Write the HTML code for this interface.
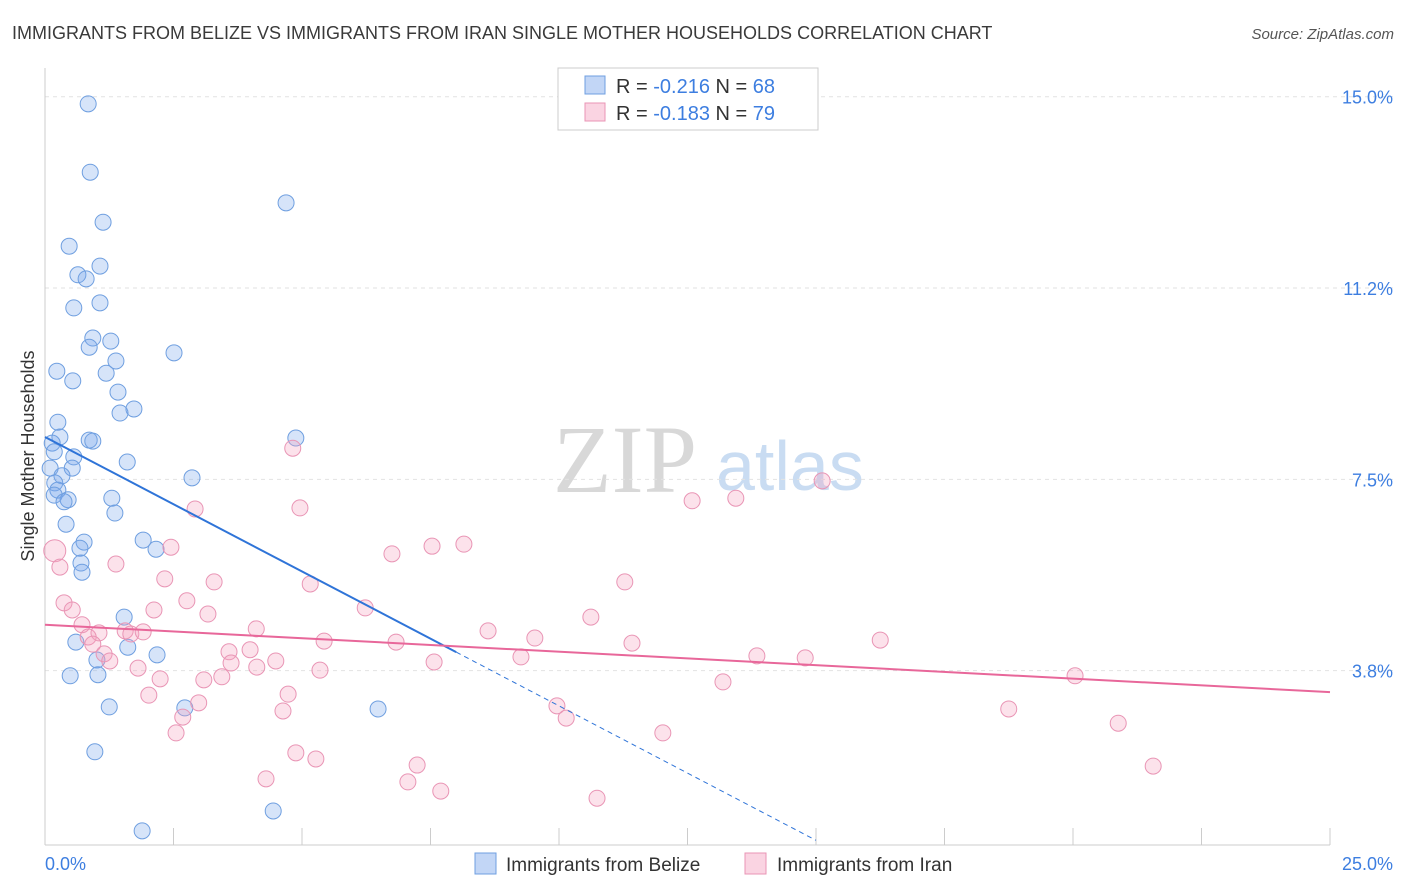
<!DOCTYPE html>
<html><head><meta charset="utf-8"><style>
body{margin:0;background:#fff;font-family:"Liberation Sans",sans-serif}
svg{display:block}
</style></head><body>
<svg id="chart" width="1406" height="892" xmlns="http://www.w3.org/2000/svg" font-family="Liberation Sans, sans-serif">
<text x="12" y="39" font-size="18" fill="#3a3a3a">IMMIGRANTS FROM BELIZE VS IMMIGRANTS FROM IRAN SINGLE MOTHER HOUSEHOLDS CORRELATION CHART</text>
<text x="1394" y="39" font-size="15" fill="#555" text-anchor="end" font-style="italic">Source: ZipAtlas.com</text>
<g>
<text x="553" y="492" font-family="Liberation Serif, serif" font-size="96" fill="#d8d8d8">ZIP</text>
<text x="716" y="490" font-size="70" fill="#c9dcf2">atlas</text>
</g>
<g id="grid"></g>
<g id="axes"></g>
<g id="pts"></g>
<g id="lines"></g>
<text transform="translate(34,456) rotate(-90)" font-size="18" fill="#333" text-anchor="middle">Single Mother Households</text>
<g>
<rect x="558" y="68" width="260" height="62" fill="#fff" stroke="#ccc"/>
<rect x="585" y="76" width="20" height="18" fill="rgba(120,165,235,0.45)" stroke="#6f9fe0"/>
<rect x="585" y="103" width="20" height="18" fill="rgba(245,160,190,0.45)" stroke="#e995b5"/>
<text x="616" y="93" font-size="20" fill="#333">R = <tspan fill="#3d7ee0">-0.216</tspan>   N = <tspan fill="#3d7ee0">68</tspan></text>
<text x="616" y="120" font-size="20" fill="#333">R = <tspan fill="#3d7ee0">-0.183</tspan>   N = <tspan fill="#3d7ee0">79</tspan></text>
</g>
<g>
<rect x="475" y="853" width="21" height="21" fill="rgba(120,165,235,0.45)" stroke="#6f9fe0"/>
<text x="506" y="871" font-size="19" fill="#333">Immigrants from Belize</text>
<rect x="745" y="853" width="21" height="21" fill="rgba(245,160,190,0.45)" stroke="#e995b5"/>
<text x="777" y="871" font-size="19" fill="#333">Immigrants from Iran</text>
</g>
</svg>
<script>
const yTicks=[15,11.25,7.5,3.75];
const yTickLabels=["15.0%","11.2%","7.5%","3.8%"];
const xTickLabels=["0.0%","25.0%"];
const belizeX=[0.84,0.88,1.13,4.69,0.47,0.64,0.80,1.07,1.07,0.56,0.93,1.28,0.86,2.51,1.38,0.23,1.19,0.54,1.42,1.73,1.46,0.25,0.29,0.86,0.93,4.88,0.14,0.18,0.56,1.60,0.10,0.53,0.33,2.86,0.19,0.25,0.18,0.45,0.37,1.30,1.36,0.41,0.76,0.68,1.91,2.16,0.70,0.72,1.54,0.60,2.18,1.61,1.01,1.03,0.49,1.25,2.72,6.48,0.97,4.44,1.89];
const belizeY=[14.86,13.52,12.54,12.92,12.07,11.51,11.43,11.68,10.96,10.86,10.27,10.21,10.09,9.98,9.82,9.62,9.58,9.43,9.21,8.88,8.80,8.62,8.33,8.27,8.25,8.31,8.21,8.04,7.94,7.84,7.72,7.72,7.57,7.53,7.43,7.29,7.19,7.10,7.06,7.13,6.84,6.62,6.27,6.15,6.31,6.13,5.86,5.68,4.80,4.31,4.06,4.21,3.96,3.67,3.65,3.04,3.02,3.00,2.16,1.00,0.61];
const iranX=[0.19,0.29,4.82,2.92,4.96,12.59,13.44,15.12,2.45,6.75,7.53,8.15,1.38,2.33,3.29,5.16,11.28,0.37,0.53,2.76,2.12,3.17,6.23,10.62,0.72,0.84,1.05,1.56,1.67,1.91,4.11,8.62,9.53,11.42,16.25,5.43,6.83,0.93,1.15,1.26,3.58,3.99,3.62,4.12,4.49,7.57,9.26,13.85,14.79,1.81,2.24,3.09,3.44,5.35,2.02,4.73,2.99,2.68,4.63,2.55,13.19,20.04,9.96,10.14,12.02,18.75,20.88,4.88,5.27,4.30,7.24,7.06,7.70,10.74,21.56];
const iranY=[6.10,5.78,8.11,6.92,6.94,7.08,7.13,7.47,6.17,6.04,6.19,6.23,5.84,5.55,5.49,5.45,5.49,5.08,4.94,5.12,4.94,4.86,4.98,4.80,4.65,4.41,4.49,4.53,4.47,4.51,4.57,4.53,4.39,4.29,4.35,4.33,4.31,4.27,4.08,3.94,4.12,4.16,3.90,3.82,3.94,3.92,4.02,4.04,4.00,3.80,3.59,3.57,3.63,3.76,3.27,3.29,3.12,2.84,2.96,2.53,3.53,3.65,3.06,2.82,2.53,3.00,2.72,2.14,2.02,1.63,1.90,1.57,1.39,1.25,1.88];
const belizeTrend=[8.33,-0.527];
const iranTrend=[4.65,-0.0528];
const NS="http://www.w3.org/2000/svg";
const xs=v=>45+v*51.4, ys=v=>862-v*51.02;
function mk(t,a,p){const e=document.createElementNS(NS,t);for(const k in a)e.setAttribute(k,a[k]);document.getElementById(p).appendChild(e);return e;}
yTicks.forEach((t,i)=>{
 const l=mk('line',{x1:45,x2:1395,y1:ys(t),y2:ys(t),stroke:'#e2e2e2','stroke-dasharray':'4,4'},'grid');
 
 
 const tx=mk('text',{x:1393,y:ys(t)+7,'font-size':18,fill:'#3d7ee0','text-anchor':'end'},'axes');
 tx.textContent=yTickLabels[i];
 
 
});
mk('line',{x1:45,x2:45,y1:68,y2:845,stroke:'#ccc'},'axes');
mk('line',{x1:45,x2:1330,y1:845,y2:845,stroke:'#ccc'},'axes');
for(let i=0;i<=10;i++){const x=xs(i*2.5);mk('line',{x1:x,x2:x,y1:828,y2:845,stroke:'#ccc'},'axes');}
[[0,45,'start'],[25,1393,'end']].forEach((d,i)=>{
 const tx=mk('text',{x:d[1],y:870,'font-size':18,fill:'#3d7ee0','text-anchor':d[2]},'axes');
 tx.textContent=xTickLabels[i];
 
 
});
belizeX.forEach((x,i)=>{
 const c=mk('circle',{cx:xs(x),cy:ys(belizeY[i]),r:8,fill:'rgba(120,165,235,0.3)',stroke:'#6f9fe0','stroke-width':1},'pts');
 
 
});
iranX.forEach((x,i)=>{
 const c=mk('circle',{cx:xs(x),cy:ys(iranY[i]),r:i==0?11:8,fill:'rgba(245,160,190,0.3)',stroke:'#e995b5','stroke-width':1},'pts');
 
 
});
const bt=x=>belizeTrend[0]+belizeTrend[1]*x, it=x=>iranTrend[0]+iranTrend[1]*x;
const l1=mk('line',{x1:xs(0),y1:ys(bt(0)),x2:xs(8),y2:ys(bt(8)),stroke:'#2f74d8','stroke-width':2},'lines');


const l2=mk('line',{x1:xs(8),y1:ys(bt(8)),x2:xs(15),y2:ys(bt(15)),stroke:'#2f74d8','stroke-width':1,'stroke-dasharray':'5,4'},'lines');


const l3=mk('line',{x1:xs(0),y1:ys(it(0)),x2:xs(25),y2:ys(it(25)),stroke:'#e8679a','stroke-width':2},'lines');


</script>
</body></html>
